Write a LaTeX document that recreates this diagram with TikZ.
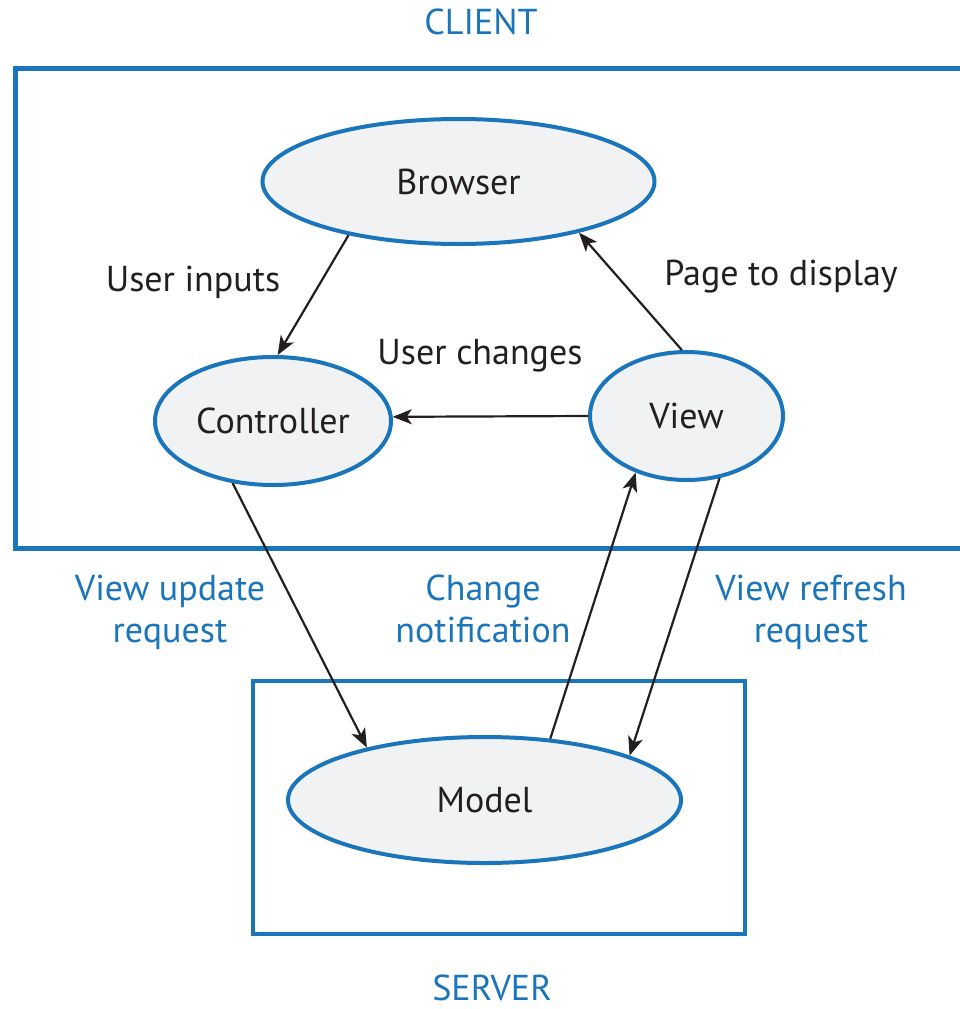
\documentclass[tikz,border=0pt]{standalone}
\usepackage{fontspec}
\setmainfont{PT Sans}
\usetikzlibrary{shapes.geometric,arrows.meta}
\definecolor{cblue}{HTML}{1B75BB}
\definecolor{cfill}{HTML}{F1F2F4}
\definecolor{ctext}{HTML}{231F20}
\tikzset{
  comp/.style={ellipse, draw=cblue, line width=4pt, fill=cfill, inner sep=0pt,
    text=ctext, font=\fontsize{36}{42}\selectfont},
  lbl/.style={anchor=base, text=ctext, font=\fontsize{36}{42}\selectfont, inner sep=0pt},
  blbl/.style={anchor=base, text=cblue, font=\fontsize{36}{42}\selectfont, inner sep=0pt, align=center},
  tier/.style={draw=cblue},
  conn/.style={draw=ctext, line width=2.2pt, -{Stealth[length=19pt,width=15pt,inset=5pt]}}
}
\begin{document}
\begin{tikzpicture}[x=1pt,y=-1pt]
\useasboundingbox (0,0) rectangle (959,1009);
% tiers
\draw[tier, line width=5pt] (970,68) -| (15.5,548) -- (970,548);
\draw[tier, line width=4pt] (252.5,681) rectangle (745,934);
\node[blbl] (client) at (481,34) {CLIENT};
\node[blbl] (server) at (492,1000) {SERVER};
% components
\node[comp, minimum width=392pt, minimum height=125pt] (browser) at (458.5,181.5) {Browser};
\node[comp, minimum width=236pt, minimum height=128pt] (controller) at (273,421) {Controller};
\node[comp, minimum width=193pt, minimum height=128pt] (view) at (686.5,416) {View};
\node[comp, minimum width=393pt, minimum height=126pt] (model) at (484.5,800) {Model};
% labels
\node[lbl] (ui) at (193,291) {User inputs};
\node[lbl] (pd) at (781,285) {Page to display};
\node[lbl] (uc) at (480,364) {User changes};
\node[blbl] (vur) at (170,642) {View update\\request};
\node[blbl] (cn) at (483,642) {Change\\notification};
\node[blbl] (vrr) at (811,642) {View refresh\\request};
% connectors
\draw[conn] (browser.206.2) -- (controller.86.7);
\draw[conn] (view.180) -- (controller.2.3);
\draw[conn] (view.94.9) -- (browser.337.4);
\draw[conn] (controller.237.4) -- (model.156.1);
\draw[conn] (model.43.4) -- (view.228.1);
\draw[conn] (view.298.4) -- (model.17);
\end{tikzpicture}
\end{document}
